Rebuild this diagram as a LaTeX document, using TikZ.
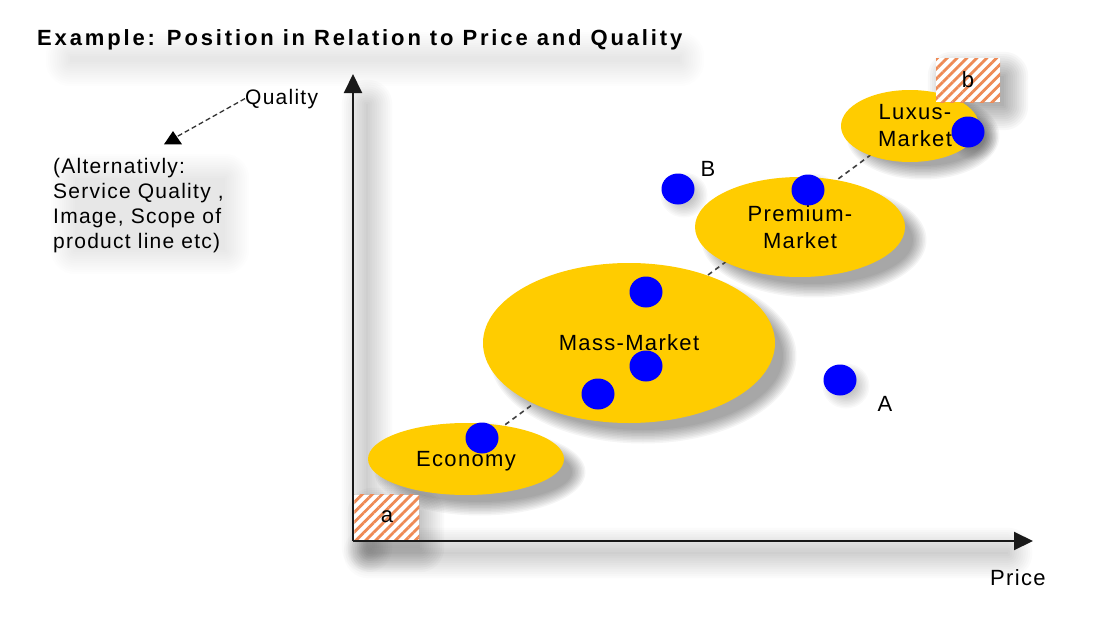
\documentclass[tikz,border=0pt]{standalone}
\usepackage{fontspec}
\setmainfont{Liberation Sans}[LetterSpace=6]
\newfontfamily\titlefont{Liberation Sans}[LetterSpace=13]
\usetikzlibrary{patterns.meta,arrows.meta,shapes.geometric}
\definecolor{gold}{RGB}{255,204,0}
\definecolor{dotblue}{RGB}{0,0,255}
\definecolor{hatchor}{RGB}{238,138,85}
\definecolor{axisc}{RGB}{25,25,25}
\newcommand{\softrect}[5]{%
  \foreach \k in {0,...,11}{\pgfmathsetmacro\rr{2.2*\k}%
    \fill[black,opacity=#5,rounded corners=\rr pt] ({#1-\rr},{#2-\rr}) rectangle ({#3+\rr},{#4+\rr});}}
\newcommand{\softell}[5]{%
  \foreach \k in {0,...,9}{\pgfmathsetmacro\rr{1.5*\k-6}%
    \fill[black,opacity=#5] (#1,#2) ellipse ({#3+\rr} and {#4+\rr});}}
\begin{document}
\begin{tikzpicture}[x=1pt,y=-1pt,
  txt/.style={inner sep=0pt, text=black, font=\fontsize{22}{27}\selectfont},
  market/.style={ellipse, fill=gold, inner sep=0pt, align=center, txt},
  dot/.style={ellipse, fill=dotblue, inner sep=0pt, minimum width=33pt, minimum height=31pt},
  hatchbox/.style={inner sep=0pt, preaction={fill=white}, pattern={Lines[angle=45,distance=7pt,line width=2.8pt]}, pattern color=hatchor, txt},
  axis/.style={draw=axisc, line width=2pt, -{Triangle[width=18pt,length=19pt]}},
  guide/.style={draw=black!75, line width=1.6pt, dash pattern=on 5pt off 4pt},
]
\useasboundingbox (0,0) rectangle (1104,629);
\fill[white] (0,0) rectangle (1104,629);

% soft shadows
\softrect{70}{56}{680}{62}{0.009}
\softrect{75}{178}{225}{250}{0.009}
\softrect{366}{104}{368}{548}{0.016}
\softrect{368}{552}{1008}{554}{0.016}
\softrect{372}{512}{420}{548}{0.018}
\softrect{952}{76}{1004}{106}{0.028}
\softell{480}{472}{98}{36}{0.04}
\softell{643}{356}{146}{80}{0.04}
\softell{814}{240}{105}{50}{0.04}
\softell{923}{136}{69}{36}{0.04}
\foreach \px/\py in {482/438,598/394,646/366,646/292,678/189,808/190,968/132,840/380}
  {\softell{\px+6}{\py+6}{16}{15}{0.025}}

% title
\node[anchor=base west, inner sep=0pt, font=\titlefont\bfseries\fontsize{22}{26}\selectfont] (title) at (37,45.5) {Example: Position in Relation to Price and Quality};

% guide line through the markets
\coordinate (gstart) at (498,430);
\coordinate (gend) at (876,151);
\draw[guide] (gstart) -- (gend);

% market segments
\node[market, text depth=0pt, minimum width=196pt, minimum height=72pt] (eco) at (466,459) {Economy};
\node[market, text depth=0pt, minimum width=292pt, minimum height=160pt] (mass) at (629,343) {Mass-Market};
\node[market, minimum width=210pt, minimum height=100pt] (prem) at (800,227) {Premium-\\Market};
\node[market, minimum width=138pt, minimum height=72pt] (lux) at (910,126) {\hspace*{10pt}Luxus-\\\hspace*{10pt}Market};

% products
\node[dot] (p1) at (482,438) {};
\node[dot] (p2) at (598,394) {};
\node[dot] (p3) at (646,366) {};
\node[dot] (p4) at (646,292) {};
\node[dot] (pB) at (678,189) {};
\node[dot] (p5) at (808,190) {};
\node[dot] (p6) at (968,132) {};
\node[dot] (pA) at (840,380) {};
\node[txt, anchor=center] (labA) at (885,404) {A};
\node[txt, anchor=center] (labB) at (708,169) {B};

% corner boxes
\node[hatchbox, minimum width=65pt, minimum height=45pt, anchor=south west] (boxa) at (353,541) {a};
\node[hatchbox, minimum width=64pt, minimum height=44pt] (boxb) at (968,80) {b};

% axes
\coordinate (O) at (353,541);
\coordinate (ytop) at (353,74);
\coordinate (xend) at (1033,541);
\draw[axis] (O) -- (ytop);
\draw[axis] (O) -- (xend);

% axis labels
\node[txt, anchor=base west] (price) at (990,585) {Price};
\node[txt, anchor=base west, font=\fontsize{21}{25}\selectfont] (qual) at (245,104) {Quality};
\node[regular polygon, regular polygon sides=3, fill=black, inner sep=0pt, minimum size=21pt, yscale=0.85] (qtri) at (173,140) {};
\draw[draw=black!80, line width=1.3pt, dash pattern=on 5pt off 3pt] (qual.west) -- (qtri.north east);
\node[txt, anchor=north west, align=left, font=\fontsize{21}{25}\selectfont] (alt) at (53,158)
  {(Alternativly:\\Service Quality ,\\Image, Scope of\\product line etc)};
\end{tikzpicture}
\end{document}
